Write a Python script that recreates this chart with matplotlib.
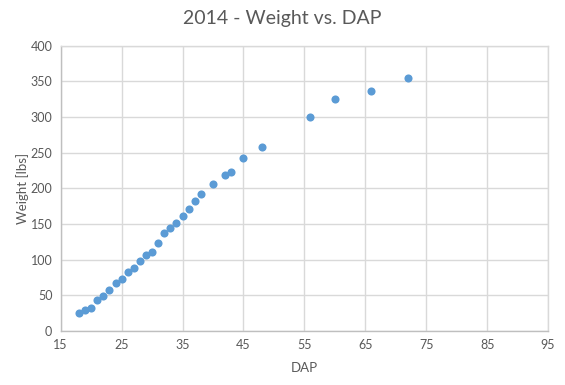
import matplotlib
matplotlib.use("Agg")
import matplotlib.pyplot as plt

# DAP (days after planting) vs weight, 2014
dap = [18, 19, 20, 21, 22, 23, 24, 25, 26, 27, 28, 29, 30, 31, 32, 33, 34,
       35, 36, 37, 38, 40, 42, 43, 45, 48, 56, 60, 66, 72]
weight = [25, 29, 32, 43, 49, 57, 67, 73, 82, 88, 98, 106, 110, 124, 137,
          144, 151, 161, 171, 182, 192, 206, 219, 223, 242, 258, 300, 325,
          337, 354]

x_ticks = [15, 25, 35, 45, 55, 65, 75, 85, 95]
y_ticks = [0, 50, 100, 150, 200, 250, 300, 350, 400]

plt.rcParams['font.family'] = ['Lato', 'DejaVu Sans']
text_color = '#595959'
grid_color = '#d9d9d9'

fig = plt.figure(figsize=(5.65, 3.85), dpi=100)
ax = fig.add_axes([0.1074, 0.1403, 0.8626, 0.7413])

ax.scatter(dap, weight, s=34, color='#5b9bd5', zorder=3, linewidths=0)

ax.set_xlim(15, 95)
ax.set_ylim(0, 400)
ax.set_xticks(x_ticks)
ax.set_yticks(y_ticks)
ax.grid(True, color=grid_color, linewidth=1)
ax.set_axisbelow(True)

for side in ['top', 'right']:
    ax.spines[side].set_color(grid_color)
    ax.spines[side].set_linewidth(1)
for side in ['left', 'bottom']:
    ax.spines[side].set_color('#bfbfbf')
    ax.spines[side].set_linewidth(1)

ax.tick_params(axis='both', length=0, labelsize=9, colors=text_color, pad=6)

ax.set_xlabel("DAP", fontsize=9.5, color=text_color, labelpad=8)
ax.set_ylabel("Weight [lbs]", fontsize=9.5, color=text_color, labelpad=1)
fig.text(0.5, 0.953, "2014 - Weight vs. DAP", ha='center', va='center',
         fontsize=14, color=text_color)

fig.savefig("out.png", dpi=100)
